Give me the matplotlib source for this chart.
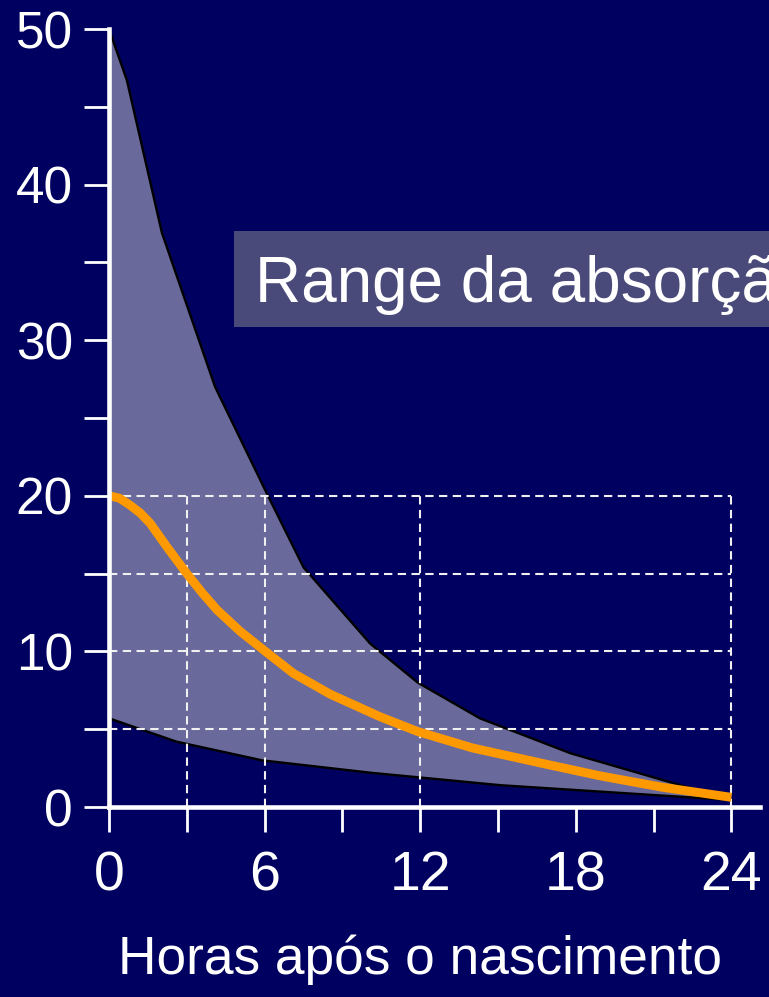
import numpy as np
import matplotlib
matplotlib.use("Agg")
import matplotlib.pyplot as plt
import matplotlib.transforms as mtransforms

# upper and lower limits of the absorption band (hours, value)
upper_hours = [0, 0.69, 2.04, 4.09, 6.1, 7.5, 10.07, 11.9, 14.3, 17.8, 24]
upper_vals = [50, 46.7, 36.9, 27.0, 20.1, 15.4, 10.5, 8.0, 5.7, 3.45, 0.45]

lower_hours = [0, 2.6, 5.9, 10.1, 15.1, 24]
lower_vals = [5.7, 4.2, 3.0, 2.2, 1.4, 0.45]

# mean curve
mean_hours = [0, 0.4, 0.81, 1.2, 1.58, 2.24, 3.0, 3.6, 4.17, 5.05, 6.06, 7.1, 8.53,
              10.45, 11.92, 14.0, 16.8, 18.94, 21.37, 24]
mean_vals = [20, 19.85, 19.4, 18.9, 18.25, 16.7, 15.0, 13.75, 12.66, 11.3, 9.96, 8.6, 7.25,
             5.8, 4.84, 3.8, 2.77, 2.0, 1.26, 0.62]

grid_y = [5, 10, 15, 20]
grid_x = [3, 6, 12, 24]
x_ticks = [0, 3, 6, 9, 12, 15, 18, 21, 24]
x_labels = ["0", "", "6", "", "12", "", "18", "", "24"]
y_ticks = [0, 5, 10, 15, 20, 25, 30, 35, 40, 45, 50]
y_labels = ["0", "", "10", "", "20", "", "30", "", "40", "", "50"]

bg = "#000060"
band = "#69699b"
orange = "#ff9900"
sans = ["Liberation Sans", "DejaVu Sans"]

fig = plt.figure(figsize=(7.69, 9.97), dpi=100, facecolor=bg)
ax = fig.add_axes([109 / 769, 190 / 997, 651 / 769, 778 / 997])
ax.set_facecolor(bg)
ax.set_xlim(0, 25.1)
ax.set_ylim(0, 50)

# band between limits
band_x = upper_hours + lower_hours[::-1]
band_y = upper_vals + lower_vals[::-1]
ax.fill(band_x, band_y, color=band, zorder=1, linewidth=0)
ax.plot(upper_hours, upper_vals, color="black", lw=1.7, zorder=2)
ax.plot(lower_hours, lower_vals, color="black", lw=1.7, zorder=2)

# dashed reference grid
ax.hlines(grid_y, 0, 24, colors="#f0f0f0", linestyles=(0, (4, 2.6)), lw=1.5, zorder=3)
ax.vlines(grid_x, 0, 20, colors="#f0f0f0", linestyles=(0, (4, 2.6)), lw=1.5, zorder=3)

ax.plot(mean_hours, mean_vals, color=orange, lw=6.4, zorder=4,
        solid_capstyle="butt", solid_joinstyle="round")

for side in ["top", "right"]:
    ax.spines[side].set_visible(False)
for side in ["left", "bottom"]:
    ax.spines[side].set_color("white")
    ax.spines[side].set_linewidth(3.3)
    ax.spines[side].set_zorder(5)

ax.set_xticks(x_ticks)
ax.set_xticklabels(x_labels, family=sans, fontsize=40, color="white")
ax.set_yticks(y_ticks)
ax.set_yticklabels(y_labels, fontsize=37, color="white", family=sans)
ax.tick_params(axis="x", length=18, width=2, color="white", pad=13, direction="out")
ax.tick_params(axis="y", length=18, width=2, color="white", pad=8, direction="out")

trans = mtransforms.blended_transform_factory(ax.transData, fig.transFigure)
ax.text(12, 0.012, "Horas após o nascimento", transform=trans, ha="center", va="bottom",
        fontsize=38.3, color="white", family=sans)

# label box for the band
fig.patches.append(plt.Rectangle((234 / 769, (997 - 327) / 997), 600 / 769, 96 / 997,
                                 transform=fig.transFigure, facecolor="#4a4a7a",
                                 edgecolor="none", zorder=6))
fig.text(255 / 769, (997 - 302) / 997, "Range da absorção", fontsize=46, color="white",
         va="baseline", ha="left", family=sans, zorder=7)

fig.savefig("out.png", dpi=100, facecolor=bg)
